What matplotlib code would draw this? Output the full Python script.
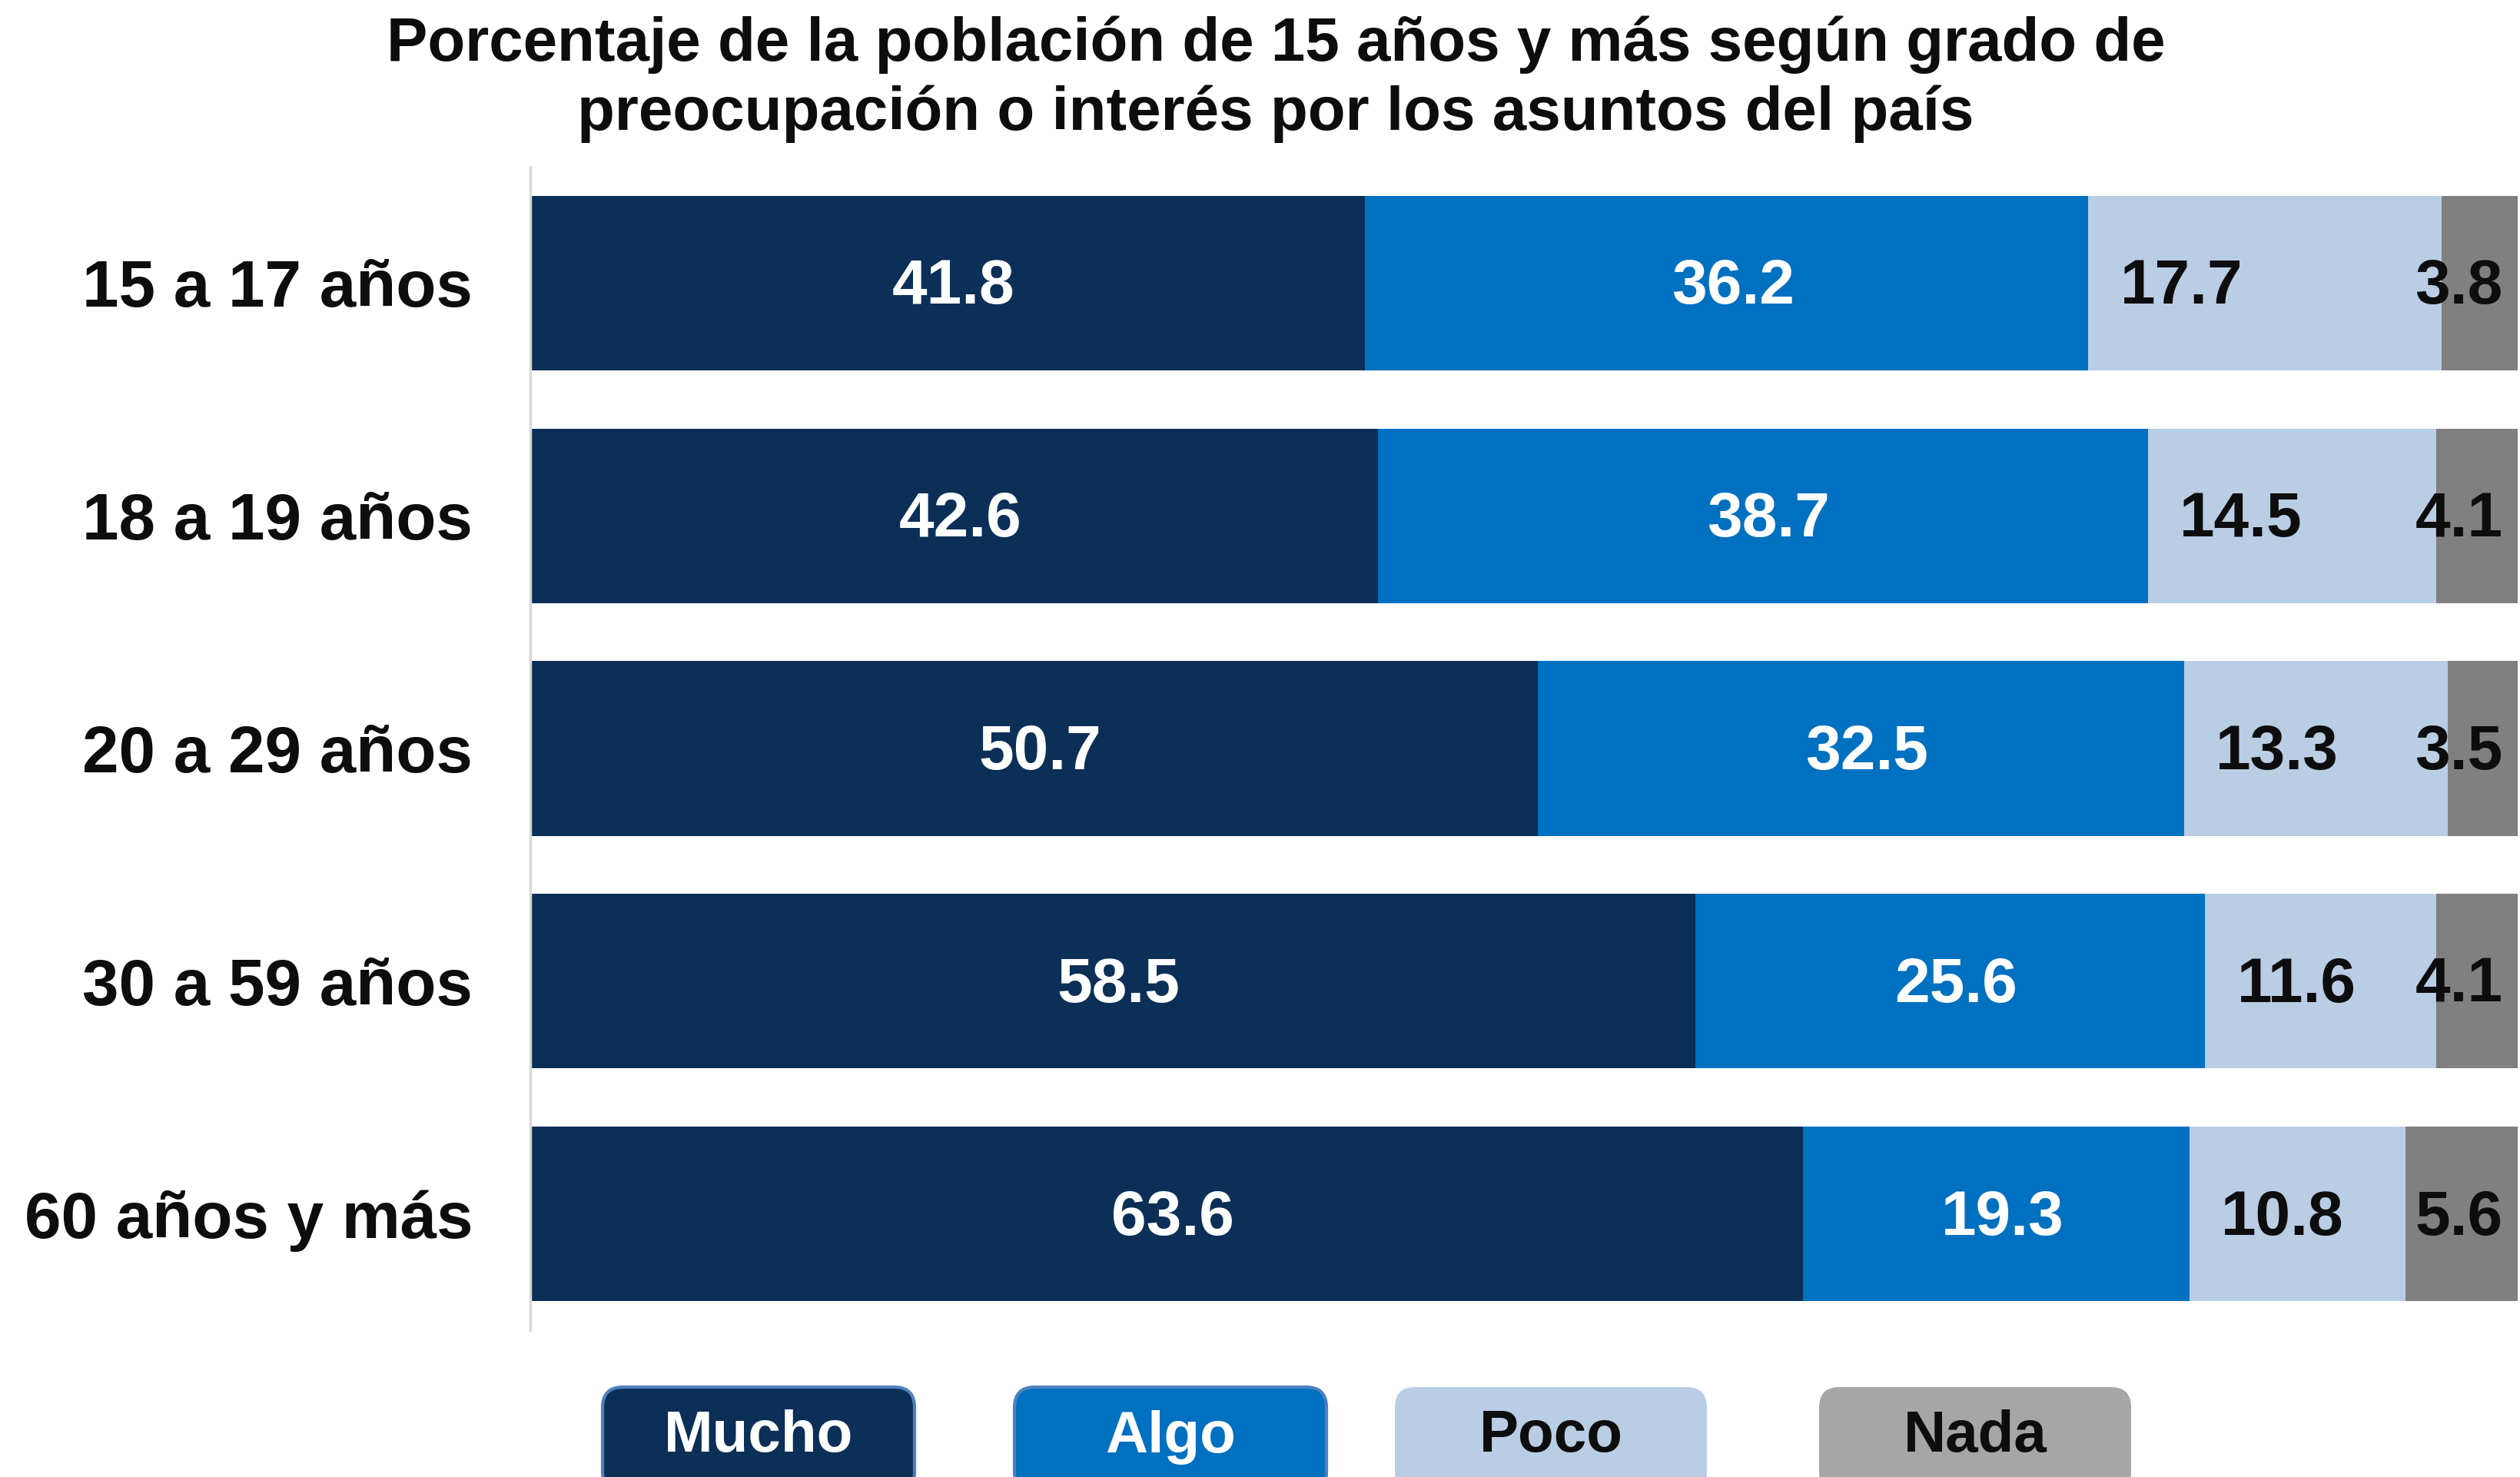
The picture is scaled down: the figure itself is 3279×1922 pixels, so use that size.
import matplotlib
matplotlib.use("Agg")
import matplotlib.pyplot as plt
from matplotlib.patches import FancyBboxPatch
import numpy as np

# Data
grupos = ["15 a 17 años", "18 a 19 años", "20 a 29 años", "30 a 59 años", "60 años y más"]
mucho = [41.8, 42.6, 50.7, 58.5, 63.6]
algo = [36.2, 38.7, 32.5, 25.6, 19.3]
poco = [17.7, 14.5, 13.3, 11.6, 10.8]
nada = [3.8, 4.1, 3.5, 4.1, 5.6]
series_names = ["Mucho", "Algo", "Poco", "Nada"]

colores = ["#0B2F57", "#0070C0", "#B9CDE5", "#808080"]
colores_leyenda = ["#0B2F57", "#0070C0", "#B9CDE5", "#A6A6A6"]
texto_color = ["white", "white", "#0D0D0D", "#0D0D0D"]

plt.rcParams["font.family"] = ["Liberation Sans", "DejaVu Sans"]

W, H = 3279, 1922
fig = plt.figure(figsize=(W / 100, H / 100), dpi=100)
ax = fig.add_axes([690 / W, (H - 1731) / H, (3276 - 690) / W, (1731 - 217) / H])

series = np.array([mucho, algo, poco, nada])
totales = series.sum(axis=0)
pct = series / totales * 100  # 100% stacked
y = np.arange(len(grupos))

left = np.zeros(len(grupos))
for i, nombre in enumerate(series_names):
    ax.barh(y, pct[i], left=left, height=0.75, color=colores[i], edgecolor="none")
    for j in range(len(grupos)):
        valor = f"{series[i][j]:.1f}"
        if nombre == "Poco":
            xt, ha = left[j] + 1.6, "left"
        elif nombre == "Nada":
            xt, ha = left[j] + pct[i][j] - 0.75, "right"
        else:
            xt, ha = left[j] + pct[i][j] / 2 + 0.3, "center"
        ax.text(xt, y[j] + 0.02, valor, ha=ha, va="center", fontsize=59,
                fontweight="bold", color=texto_color[i])
    left += pct[i]

ax.set_xlim(0, 100)
ax.set_ylim(len(grupos) - 0.5, -0.5)
ax.set_yticks(y)
ax.set_yticklabels(grupos, fontsize=61.5, fontweight="bold", color="#0D0D0D")
ax.tick_params(axis="y", length=0, pad=54)
ax.set_xticks([])
for s in ["top", "right", "bottom"]:
    ax.spines[s].set_visible(False)
ax.spines["left"].set_color("#D9D9D9")
ax.spines["left"].set_linewidth(2.5)

fig.text(1660 / W, 1 - 103 / H, "Porcentaje de la población de 15 años y más según grado de\n"
         "preocupación o interés por los asuntos del país",
         ha="center", va="center", fontsize=57.5, fontweight="bold", color="#0D0D0D",
         linespacing=1.24)

# legend drawn as rounded boxes along the bottom edge
leg_x = [784, 1320, 1815, 2367]
box_w = 406
for i, nombre in enumerate(series_names):
    x0 = leg_x[i] / W
    y0 = -20 / H
    borde = "#4F81BD" if i < 2 else "none"
    caja = FancyBboxPatch((x0, y0), box_w / W, (H - 1805 + 20) / H,
                          boxstyle="round,pad=0,rounding_size=0.008",
                          transform=fig.transFigure, facecolor=colores_leyenda[i],
                          edgecolor=borde, linewidth=3, clip_on=False,
                          mutation_aspect=W / H)
    fig.add_artist(caja)
    fig.text(x0 + box_w / 2 / W, 1 - 1870 / H, nombre, ha="center", va="center",
             fontsize=55, fontweight="bold", color=texto_color[i])

fig.savefig("out.png", dpi=100)
